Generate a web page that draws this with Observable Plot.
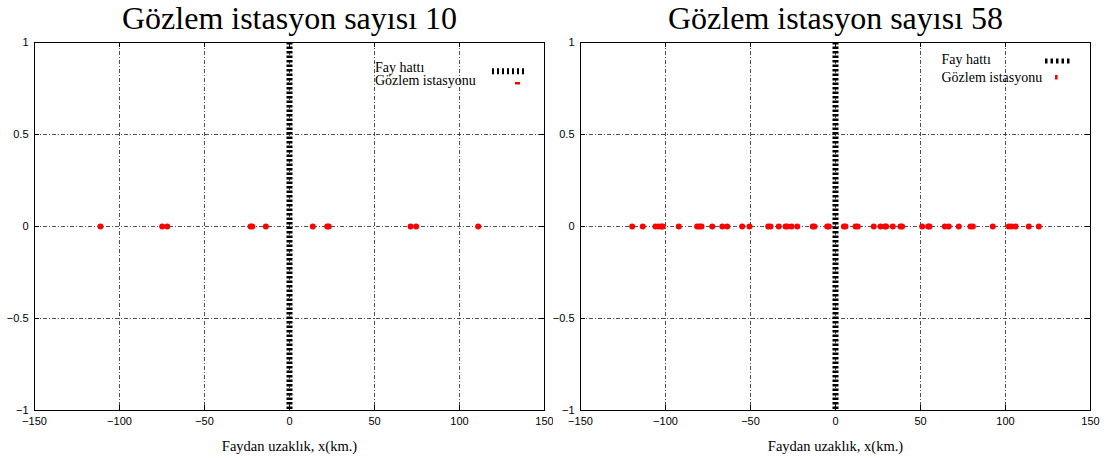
<!DOCTYPE html>
<html>
<head>
<meta charset="utf-8">
<script src="https://cdn.jsdelivr.net/npm/d3@7"></script>
<script src="https://cdn.jsdelivr.net/npm/@observablehq/plot@0.6"></script>
<style>
  html, body { margin: 0; padding: 0; background: #fff; }
  #charts { display: flex; width: 1107px; height: 458px; }
</style>
</head>
<body>
<div id="charts"></div>
<script>
// Station distances from the fault (km), all stations lie on y = 0
const stationsA = [-111.2, -74.9, -71.9, -22.9, -21.9, -13.9, 13.7, 22.2, 23.1, 71.2, 74.5, 111.0];
const stationsB = [
  -119.6, -113.4, -105.9, -103.9, -102.4, -101.6, -92.2, -81.4, -80.0, -78.8,
  -72.5, -66.6, -63.7, -54.9, -50.6, -39.6, -38.2, -33.4, -29.4, -28.4,
  -25.9, -22.5, -13.4, -12.4, -4.9, -3.9, 4.9, 5.9, 11.8, 13.1,
  22.5, 26.5, 29.0, 29.8, 33.7, 38.2, 39.2, 51.0, 54.5, 55.3,
  64.3, 66.6, 72.5, 79.4, 80.8, 92.5, 101.9, 103.5, 105.9, 113.7, 119.6
];
const titles = ["Gözlem istasyon sayısı 10", "Gözlem istasyon sayısı 58"];
const xTicks = [-150, -100, -50, 0, 50, 100, 150];
const yTicks = [-1, -0.5, 0, 0.5, 1];
const faultX = [0];
const xLabel = "Faydan uzaklık, x(km.)";
const legendLabels = ["Fay hattı", "Gözlem istasyonu"];

const serif = "'Liberation Serif', 'DejaVu Serif', serif";
const sans = "'Liberation Sans', Arial, sans-serif";
const fmt = d => (d < 0 ? "\u2212" : "") + Math.abs(d);

// legend placement for each panel (svg pixel coordinates)
const legendLayouts = [
  {textX: 375, rows: [71.5, 85], lineX: [492, 527], lineY: 71.3, lineW: 6, dash: "2,3",
   dot: {x: 515, y: 82, w: 5, h: 2.5}},
  {textX: 388.5, rows: [64, 81.5], lineX: [492, 519], lineY: 61, lineW: 5, dash: "2.5,3",
   dot: {x: 502, y: 75, w: 2.6, h: 4.5}}
];

function legendMark(cfg) {
  return () => {
    const g = d3.create("svg:g")
      .style("font-family", serif)
      .style("font-size", "14px")
      .style("text-anchor", "start")
      .attr("fill", "black");
    legendLabels.forEach((t, i) => {
      g.append("text").attr("x", cfg.textX).attr("y", cfg.rows[i]).text(t);
    });
    g.append("line")
      .attr("x1", cfg.lineX[0]).attr("x2", cfg.lineX[1])
      .attr("y1", cfg.lineY).attr("y2", cfg.lineY)
      .attr("stroke", "black").attr("stroke-width", cfg.lineW)
      .attr("stroke-dasharray", cfg.dash);
    g.append("rect")
      .attr("x", cfg.dot.x).attr("y", cfg.dot.y)
      .attr("width", cfg.dot.w).attr("height", cfg.dot.h)
      .attr("fill", "red");
    return g.node();
  };
}

function panel(stations, title, layout, width, marginLeft, marginRight) {
  const height = 458, marginTop = 42, marginBottom = 48;
  const innerW = width - marginLeft - marginRight;
  const innerH = height - marginTop - marginBottom;
  const tick = 5;
  return Plot.plot({
    width, height, marginLeft, marginRight, marginTop, marginBottom,
    style: {fontFamily: sans, fontSize: "11px", background: "white", color: "black"},
    x: {domain: [-150, 150], ticks: xTicks},
    y: {domain: [-1, 1], ticks: yTicks},
    marks: [
      Plot.gridX(xTicks.slice(1, -1), {stroke: "#333", strokeOpacity: 0.85, strokeDasharray: "4,2,1,2"}),
      Plot.gridY(yTicks.slice(1, -1), {stroke: "#333", strokeOpacity: 0.85, strokeDasharray: "4,2,1,2"}),
      Plot.frame({stroke: "black"}),
      // inward tick marks on all four sides
      Plot.ruleX(xTicks, {x: d => d, insetTop: innerH - tick, stroke: "black"}),
      Plot.ruleX(xTicks, {x: d => d, insetBottom: innerH - tick, stroke: "black"}),
      Plot.ruleY(yTicks, {y: d => d, insetRight: innerW - tick, stroke: "black"}),
      Plot.ruleY(yTicks, {y: d => d, insetLeft: innerW - tick, stroke: "black"}),
      Plot.axisX(xTicks, {tickSize: 0, tickPadding: 6.5, label: null, tickFormat: fmt}),
      Plot.axisY(yTicks, {tickSize: 0, tickPadding: 6, label: null, tickFormat: fmt}),
      // fault line
      Plot.ruleX(faultX, {x: d => d, stroke: "black", strokeWidth: 6, strokeDasharray: "2.5,2"}),
      // stations
      Plot.dot(stations, {x: d => d, y: () => 0, r: 3, fill: "red", stroke: "none"}),
      Plot.text([title], {frameAnchor: "top", lineAnchor: "middle", dy: -24,
        fontFamily: serif, fontSize: 32, fill: "black"}),
      Plot.text([xLabel], {frameAnchor: "bottom", lineAnchor: "middle", dy: 36,
        fontFamily: serif, fontSize: 14.5, fill: "black"}),
      legendMark(layout)
    ]
  });
}

const root = document.getElementById("charts");
root.append(panel(stationsA, titles[0], legendLayouts[0], 553, 34, 9));
root.append(panel(stationsB, titles[1], legendLayouts[1], 554, 27, 17));
</script>
</body>
</html>
